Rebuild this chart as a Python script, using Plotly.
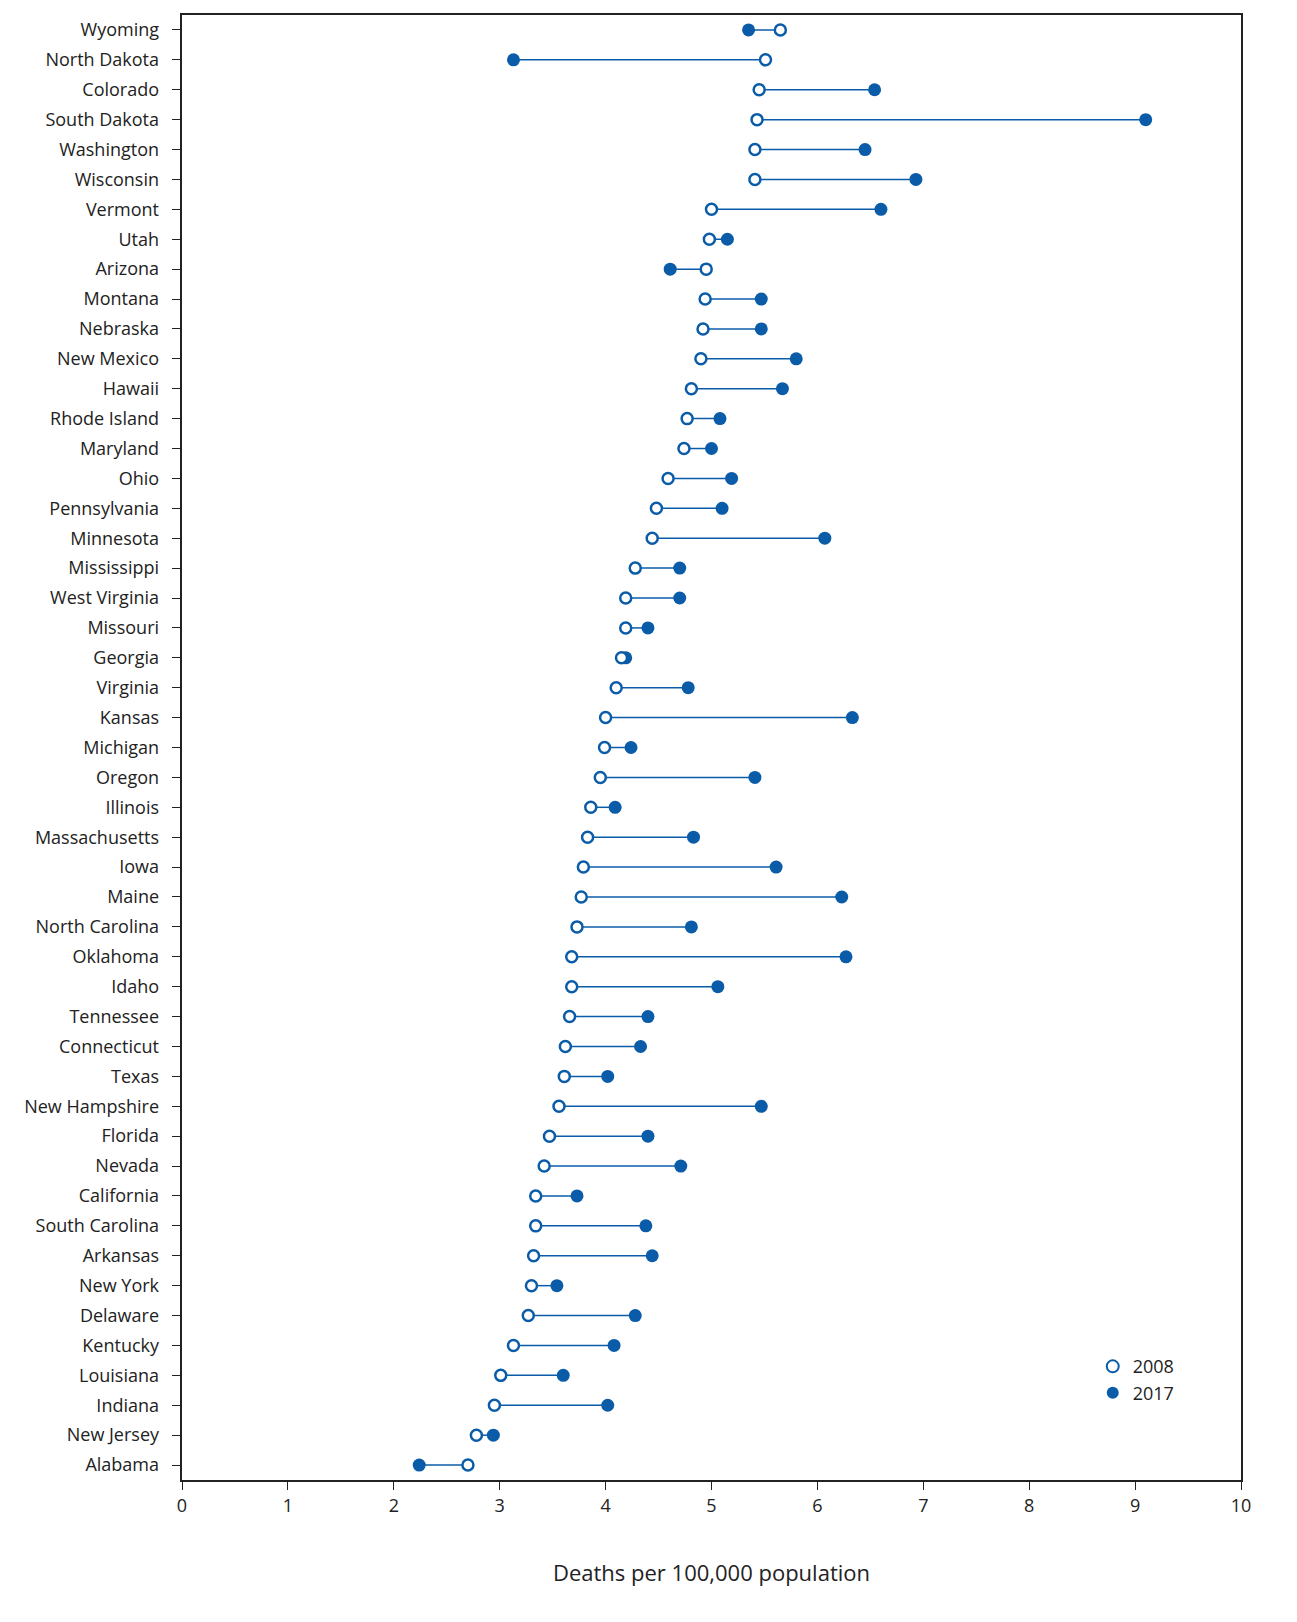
import plotly.graph_objects as go

states = ["Wyoming", "North Dakota", "Colorado", "South Dakota", "Washington", "Wisconsin",
          "Vermont", "Utah", "Arizona", "Montana", "Nebraska", "New Mexico", "Hawaii",
          "Rhode Island", "Maryland", "Ohio", "Pennsylvania", "Minnesota", "Mississippi",
          "West Virginia", "Missouri", "Georgia", "Virginia", "Kansas", "Michigan", "Oregon",
          "Illinois", "Massachusetts", "Iowa", "Maine", "North Carolina", "Oklahoma", "Idaho",
          "Tennessee", "Connecticut", "Texas", "New Hampshire", "Florida", "Nevada",
          "California", "South Carolina", "Arkansas", "New York", "Delaware", "Kentucky",
          "Louisiana", "Indiana", "New Jersey", "Alabama"]
rate_2008 = [5.65, 5.51, 5.45, 5.43, 5.41, 5.41, 5.00, 4.98, 4.95, 4.94, 4.92, 4.90, 4.81,
             4.77, 4.74, 4.59, 4.48, 4.44, 4.28, 4.19, 4.19, 4.15, 4.10, 4.00, 3.99, 3.95,
             3.86, 3.83, 3.79, 3.77, 3.73, 3.68, 3.68, 3.66, 3.62, 3.61, 3.56, 3.47, 3.42,
             3.34, 3.34, 3.32, 3.30, 3.27, 3.13, 3.01, 2.95, 2.78, 2.70]
rate_2017 = [5.35, 3.13, 6.54, 9.10, 6.45, 6.93, 6.60, 5.15, 4.61, 5.47, 5.47, 5.80, 5.67,
             5.08, 5.00, 5.19, 5.10, 6.07, 4.70, 4.70, 4.40, 4.19, 4.78, 6.33, 4.24, 5.41,
             4.09, 4.83, 5.61, 6.23, 4.81, 6.27, 5.06, 4.40, 4.33, 4.02, 5.47, 4.40, 4.71,
             3.73, 4.38, 4.44, 3.54, 4.28, 4.08, 3.60, 4.02, 2.94, 2.24]

blue = "#0b5ca8"

# connecting segments
lx, ly = [], []
for s, a, b in zip(states, rate_2008, rate_2017):
    lx += [a, b, None]
    ly += [s, s, None]

fig = go.Figure()
fig.add_trace(go.Scatter(x=lx, y=ly, mode="lines", line=dict(color=blue, width=1.5),
                         showlegend=False, hoverinfo="skip"))
fig.add_trace(go.Scatter(x=rate_2017, y=states, mode="markers", name="2017",
                         marker=dict(color=blue, size=13)))
fig.add_trace(go.Scatter(x=rate_2008, y=states, mode="markers", name="2008",
                         marker=dict(color="white", size=11, line=dict(color=blue, width=2.5))))

fig.update_layout(
    width=1297, height=1622,
    margin=dict(l=174, r=64, t=5, b=150),
    plot_bgcolor="white", paper_bgcolor="white",
    font=dict(family="Open Sans", size=18, color="#222"),
    legend=dict(x=0.86, y=0.09, xanchor="left", yanchor="top", traceorder="reversed",
                font=dict(size=18), itemsizing="constant", tracegroupgap=0),
    xaxis=dict(range=[0, 10], dtick=1, showgrid=False, zeroline=False,
               ticks="outside", ticklen=8, tickcolor="#222", linecolor="#222", linewidth=2,
               mirror=True, title=dict(text="Deaths per 100,000 population", standoff=50)),
    yaxis=dict(categoryorder="array", categoryarray=states, autorange="reversed",
               range=None, showgrid=False, ticks="outside", ticklen=8, tickcolor="#222",
               linecolor="#222", linewidth=2, mirror=True, ticksuffix="  "),
)
fig.update_yaxes(range=[len(states) - 0.5, -0.5], autorange=False)

fig.write_html("out.html")
